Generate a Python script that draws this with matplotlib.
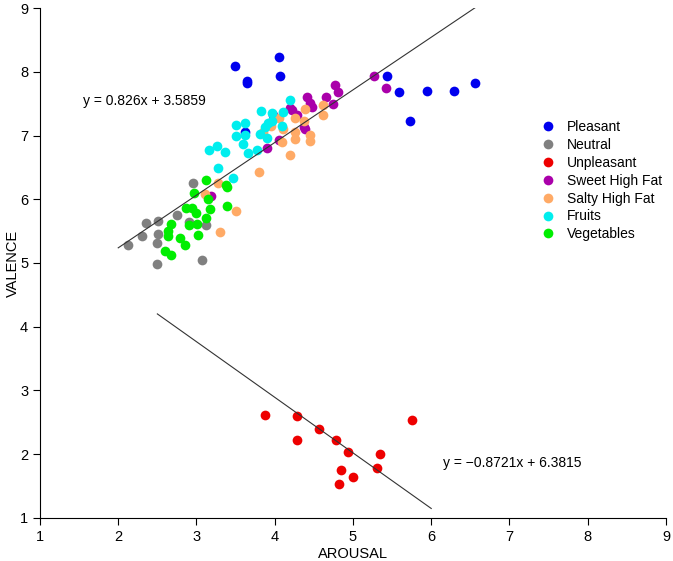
import matplotlib
matplotlib.use("Agg")
import matplotlib.pyplot as plt
import numpy as np

plt.rcParams['font.family'] = ['Liberation Sans', 'DejaVu Sans']

categories = ["Pleasant", "Neutral", "Unpleasant", "Sweet High Fat",
              "Salty High Fat", "Fruits", "Vegetables"]
colors = ["#0000EE", "#808080", "#EE0000", "#AA00AA", "#FFAA66", "#00EEEE", "#00EE00"]

pleasant_x = [3.49, 4.05, 4.07, 3.64, 3.645, 5.44, 5.59, 5.94, 6.29, 6.56, 5.73, 3.62]
pleasant_y = [8.09, 8.23, 7.93, 7.86, 7.82, 7.94, 7.69, 7.70, 7.70, 7.83, 7.23, 7.06]

neutral_x = [2.12, 2.30, 2.36, 2.51, 2.49, 2.51, 2.75, 2.91, 2.50, 3.07, 2.96, 3.12]
neutral_y = [5.28, 5.42, 5.62, 5.66, 5.32, 5.45, 5.75, 5.64, 4.98, 5.04, 6.26, 5.60]

unpleasant_x = [3.87, 4.28, 4.29, 4.57, 4.78, 4.94, 4.85, 5.00, 4.82, 5.35, 5.31, 5.75]
unpleasant_y = [2.62, 2.60, 2.22, 2.40, 2.23, 2.04, 1.75, 1.64, 1.53, 2.01, 1.78, 2.54]

sweet_x = [5.27, 5.42, 4.77, 4.81, 4.41, 4.65, 4.45, 4.74, 4.47, 4.22, 4.28, 4.37,
           4.05, 3.90, 3.98, 3.19, 4.19, 4.39]
sweet_y = [7.93, 7.74, 7.79, 7.69, 7.60, 7.60, 7.51, 7.49, 7.44, 7.40, 7.32, 7.14,
           6.93, 6.80, 7.32, 6.05, 7.43, 7.10]

salty_x = [4.62, 4.62, 4.39, 4.26, 4.37, 4.26, 4.26, 4.45, 4.45, 4.19, 4.05, 3.85,
           4.09, 3.80, 3.51, 3.30, 3.11, 3.28, 3.95, 4.10]
salty_y = [7.48, 7.32, 7.41, 7.27, 7.22, 7.06, 6.94, 7.01, 6.92, 6.70, 7.27, 7.06,
           6.90, 6.42, 5.81, 5.48, 6.09, 6.25, 7.15, 7.10]

fruits_x = [4.19, 3.83, 3.96, 3.92, 4.11, 4.09, 3.88, 3.81, 3.51, 3.62, 3.51, 3.62,
            3.60, 3.66, 3.77, 3.16, 3.26, 3.36, 3.28, 3.47, 3.97, 3.90]
fruits_y = [7.56, 7.39, 7.35, 7.19, 7.37, 7.15, 7.14, 7.03, 7.16, 7.19, 6.99, 7.01,
            6.87, 6.72, 6.78, 6.77, 6.84, 6.74, 6.49, 6.33, 7.23, 6.96]

veg_x = [3.12, 2.97, 2.87, 2.94, 3.00, 2.68, 2.91, 3.01, 3.12, 2.64, 2.64, 2.79,
         2.85, 3.02, 2.60, 2.68, 3.15, 3.17, 3.39, 3.38, 3.39]
veg_y = [6.30, 6.10, 5.86, 5.87, 5.78, 5.61, 5.60, 5.61, 5.70, 5.50, 5.42, 5.39,
         5.28, 5.44, 5.19, 5.13, 6.00, 5.84, 5.89, 6.22, 6.19]

fit_pos = (0.826, 3.5859)
fit_pos_range = [2.0, 6.58]
fit_neg = (-0.8721, 6.3815)
fit_neg_range = [2.5, 6.0]
eq_pos = "y = 0.826x + 3.5859"
eq_neg = "y = \u22120.8721x + 6.3815"

xs = [pleasant_x, neutral_x, unpleasant_x, sweet_x, salty_x, fruits_x, veg_x]
ys = [pleasant_y, neutral_y, unpleasant_y, sweet_y, salty_y, fruits_y, veg_y]

fig = plt.figure(figsize=(6.73, 5.61), dpi=100)
ax = fig.add_axes([0.0594, 0.0767, 0.9302, 0.909])

for cat, c, x, y in zip(categories, colors, xs, ys):
    ax.plot(x, y, 'o', color=c, markersize=7.0, markeredgewidth=0, label=cat)

for (m, b), rng in [(fit_pos, fit_pos_range), (fit_neg, fit_neg_range)]:
    xx = np.array(rng)
    ax.plot(xx, m * xx + b, color='#333333', linewidth=0.8)

ax.text(1.55, 7.54, eq_pos, fontsize=10, va='center', ha='left')
ax.text(6.15, 1.86, eq_neg, fontsize=10, va='center', ha='left')

ax.set_xlim(1, 9)
ax.set_ylim(1, 9)
ax.set_xticks(range(1, 10))
ax.set_yticks(range(1, 10))
for s in ['top', 'right']:
    ax.spines[s].set_visible(False)
ax.tick_params(direction='out', length=5, labelsize=10.5)
ax.set_xlabel("AROUSAL", fontsize=10.5, labelpad=2)
ax.set_ylabel("VALENCE", fontsize=10.5, labelpad=0)

ax.legend(loc='upper left', bbox_to_anchor=(0.78, 0.805), frameon=False,
          fontsize=10, handletextpad=0.9, labelspacing=0.28, markerscale=1.0,
          handlelength=1.0)

fig.savefig("out.png", dpi=100)
